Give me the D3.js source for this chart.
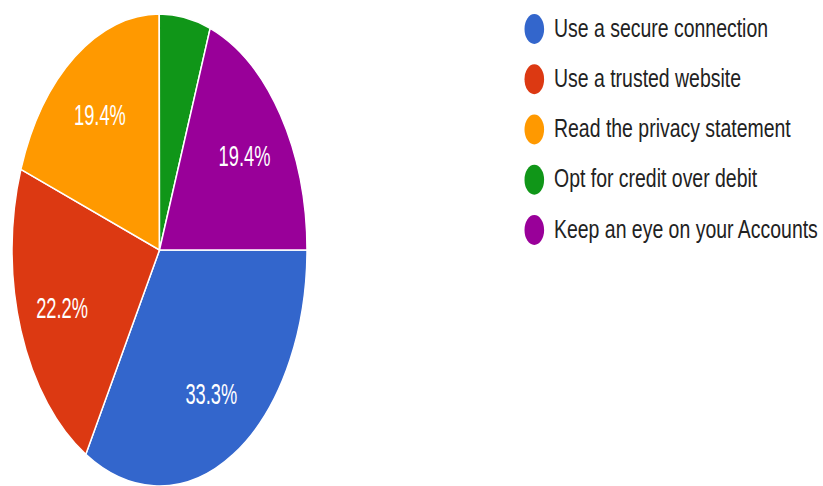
<!DOCTYPE html>
<html>
<head>
<meta charset="utf-8">
<script src="https://cdn.jsdelivr.net/npm/d3@7"></script>
<style>
  html, body { margin: 0; padding: 0; background: #fff; }
  svg { display: block; }
  text { font-family: "Liberation Sans", Arial, sans-serif; }
</style>
</head>
<body>
<svg id="chart" width="823" height="486"></svg>
<script>
// Survey answers: share of respondents per tip (percent)
const categories = [
  "Use a secure connection",
  "Use a trusted website",
  "Read the privacy statement",
  "Opt for credit over debit",
  "Keep an eye on your Accounts"
];
const shares = [33.3, 22.2, 19.4, 5.6, 19.4];
const colors = ["#3366cc", "#dc3912", "#ff9900", "#109618", "#990099"];

const W = 823, H = 486;
const cx = 159.5, cy = 250;
const R = 236;          // pie radius (vertical)
const squeeze = 0.625;  // horizontal compression of the pie
const labelSqueeze = 0.61;
const legendSqueeze = 0.763;

const svg = d3.select("#chart");

const data = categories.map((c, i) => ({ name: c, value: shares[i], color: colors[i] }));

const pie = d3.pie()
  .sort(null)
  .value(d => d.value)
  .startAngle(Math.PI / 2)
  .endAngle(Math.PI / 2 + 2 * Math.PI);

const arcs = pie(data);
const arc = d3.arc().innerRadius(0).outerRadius(R);

const pieG = svg.append("g")
  .attr("transform", `translate(${cx},${cy}) scale(${squeeze},1)`);

pieG.selectAll("path")
  .data(arcs)
  .join("path")
  .attr("d", arc)
  .attr("fill", d => d.data.color)
  .attr("stroke", "#fff")
  .attr("stroke-width", 1.5)
  .attr("vector-effect", "non-scaling-stroke");

// Percent labels inside slices large enough to hold them
const labelR = R * 0.703;
svg.append("g").selectAll("g")
  .data(arcs.filter(d => d.data.value >= 10))
  .join("g")
  .attr("transform", d => {
    const a = (d.startAngle + d.endAngle) / 2;
    const x = cx + squeeze * labelR * Math.sin(a);
    const y = cy - labelR * Math.cos(a);
    return `translate(${x},${y}) scale(${labelSqueeze},1)`;
  })
  .append("text")
  .attr("text-anchor", "middle")
  .attr("dy", "0.36em")
  .attr("fill", "#fff")
  .attr("font-size", 30)
  .text(d => d.data.value.toFixed(1) + "%");

// Legend
const legendX = 534.3, legendY0 = 29, legendStep = 50.25;
const legend = svg.append("g")
  .selectAll("g")
  .data(data)
  .join("g")
  .attr("transform", (d, i) => `translate(${legendX},${legendY0 + i * legendStep})`);

legend.append("ellipse")
  .attr("rx", 9.8)
  .attr("ry", 15)
  .attr("fill", d => d.color);

legend.append("g")
  .attr("transform", `translate(19.7,7.7) scale(${legendSqueeze},1)`)
  .append("text")
  .attr("font-size", 25.5)
  .attr("fill", "#222")
  .text(d => d.name);
</script>
</body>
</html>
